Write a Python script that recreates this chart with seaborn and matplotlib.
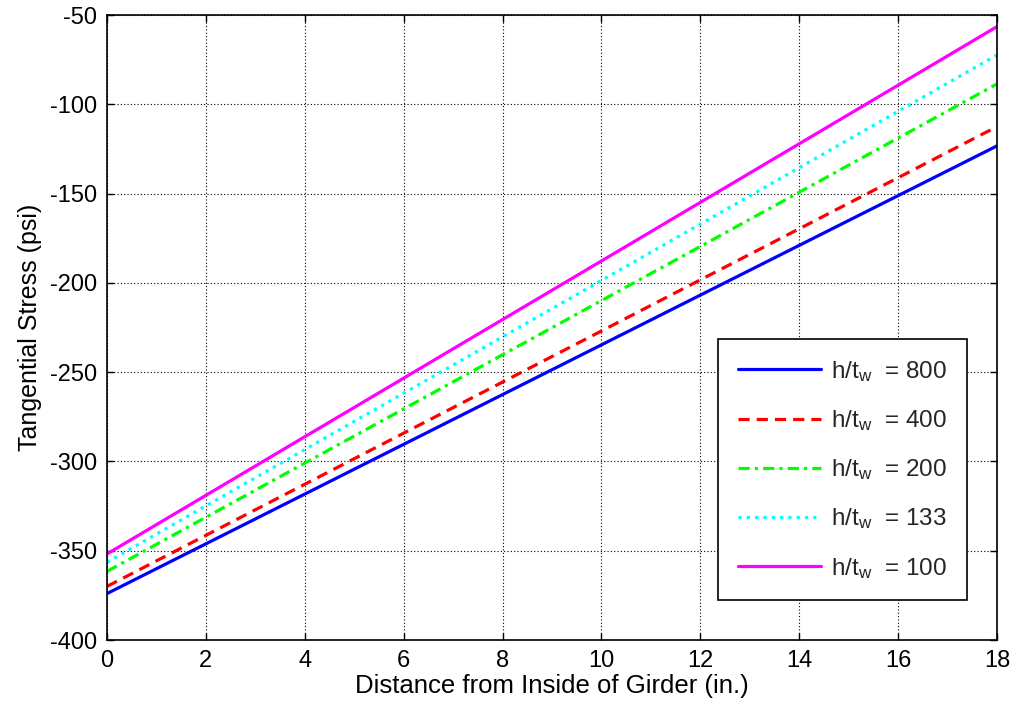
import matplotlib
matplotlib.use("Agg")
import matplotlib.pyplot as plt
import seaborn as sns
import pandas as pd

# Data (straight lines: values at x = 0 and x = 18 in.)
distance = [0, 18]
stress_800 = [-374.0, -123.3]
stress_400 = [-370.0, -112.5]
stress_200 = [-361.6, -88.6]
stress_133 = [-356.5, -72.4]
stress_100 = [-351.8, -56.5]
labels = ["800", "400", "200", "133", "100"]
xticks = list(range(0, 19, 2))
yticks = list(range(-400, -49, 50))

sns.set_theme(style="white")
plt.rcParams["font.family"] = ["Liberation Sans", "DejaVu Sans"]
plt.rcParams["mathtext.fontset"] = "custom"
plt.rcParams["mathtext.rm"] = "Liberation Sans"
plt.rcParams["mathtext.it"] = "Liberation Sans"
plt.rcParams["axes.unicode_minus"] = False

fig = plt.figure(figsize=(10.15, 7.15), dpi=100)
ax = fig.add_axes([107 / 1015, 1 - 640 / 715, (997 - 107) / 1015, (640 - 15) / 715])

series = [stress_800, stress_400, stress_200, stress_133, stress_100]
colors = ["#0000ff", "#ff0000", "#00ff00", "#00ffff", "#ff00ff"]
styles = ["-", (0, (3.5, 2.2)), (0, (3.5, 1.6, 1, 1.6)), (0, (1, 1.6)), "-"]

for vals, lab, c, ls in zip(series, labels, colors, styles):
    df = pd.DataFrame({"x": distance, "y": vals})
    sns.lineplot(data=df, x="x", y="y", ax=ax, color=c, linewidth=2.3,
                 linestyle=ls, label=r"h/t$_{\rm w}$  = " + lab)

ax.set_xlim(0, 18)
ax.set_ylim(-400, -50)
ax.set_xticks(xticks)
ax.set_yticks(yticks)
ax.grid(True, color="black", linestyle=(0, (1, 2)), linewidth=0.8)
for s in ax.spines.values():
    s.set_color("black")
    s.set_linewidth(1.2)
ax.tick_params(direction="in", length=5, width=1, colors="black",
               labelsize=17, top=True, right=True, bottom=True, left=True, pad=7)
ax.set_xlabel("Distance from Inside of Girder (in.)", fontsize=18.5, color="black", labelpad=2)
ax.set_ylabel("Tangential Stress (psi)", fontsize=18, color="black", labelpad=6)

leg = ax.legend(loc="lower right", bbox_to_anchor=((967 - 107) / 890, (640 - 600) / 625),
                fontsize=17.5, frameon=True, fancybox=False, edgecolor="black",
                framealpha=1, handlelength=3.4, labelspacing=1.0, borderpad=0.8,
                handletextpad=0.45, borderaxespad=0)
leg.get_frame().set_linewidth(1.2)

fig.savefig("out.png", dpi=100)
